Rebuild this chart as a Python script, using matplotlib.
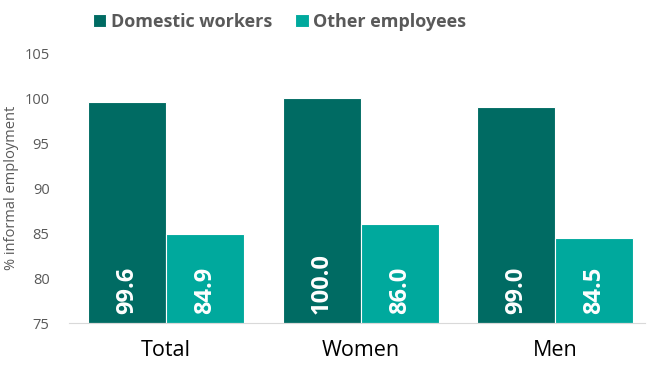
import numpy as np
import matplotlib.pyplot as plt

# data
categories = ['Total', 'Women', 'Men']
domestic = [99.6, 100.0, 99.0]
other = [84.9, 86.0, 84.5]

dark = '#006B63'
light = '#00A99D'
grey = '#595959'

plt.rcParams['font.family'] = ['Open Sans', 'DejaVu Sans']

fig = plt.figure(figsize=(6.47, 3.71), dpi=100)
ax = fig.add_axes([0.1066, 0.129, 0.89, 0.728])

x = np.arange(len(categories))
w = 0.4
b1 = ax.bar(x - w / 2, np.array(domestic) - 75, w, bottom=75, color=dark,
            edgecolor='white', linewidth=0.8, label='Domestic workers')
b2 = ax.bar(x + w / 2, np.array(other) - 75, w, bottom=75, color=light,
            edgecolor='white', linewidth=0.8, label='Other employees')

# value labels inside the bars, near the base
for xs, vals in [(x - w / 2, domestic), (x + w / 2, other)]:
    for xi, v in zip(xs, vals):
        ax.text(xi, 76.0, f'{v:.1f}', rotation=90, ha='center', va='bottom',
                color='white', fontsize=17, fontweight='bold')

ax.set_ylim(75, 105)
ax.set_xlim(-0.5, 2.46)
ax.set_yticks(range(75, 106, 5))
ax.set_xticks(x)
ax.set_xticklabels(categories, fontsize=15.5, color='black')
ax.tick_params(axis='y', labelsize=10.5, labelcolor=grey, length=0, pad=14)
ax.tick_params(axis='x', length=0, pad=12)
ax.set_ylabel('% informal employment', fontsize=10.5, color=grey, labelpad=4)

for s in ['top', 'right', 'left']:
    ax.spines[s].set_visible(False)
ax.spines['bottom'].set_color('#D9D9D9')

leg = fig.legend(loc='upper left', bbox_to_anchor=(0.118, 1.01), ncol=2, frameon=False,
                 handlelength=0.75, handleheight=0.75, handletextpad=0.25, columnspacing=1.3,
                 prop={'size': 13, 'weight': 'bold'})
for t in leg.get_texts():
    t.set_color(grey)

plt.savefig('out.png', dpi=100)
